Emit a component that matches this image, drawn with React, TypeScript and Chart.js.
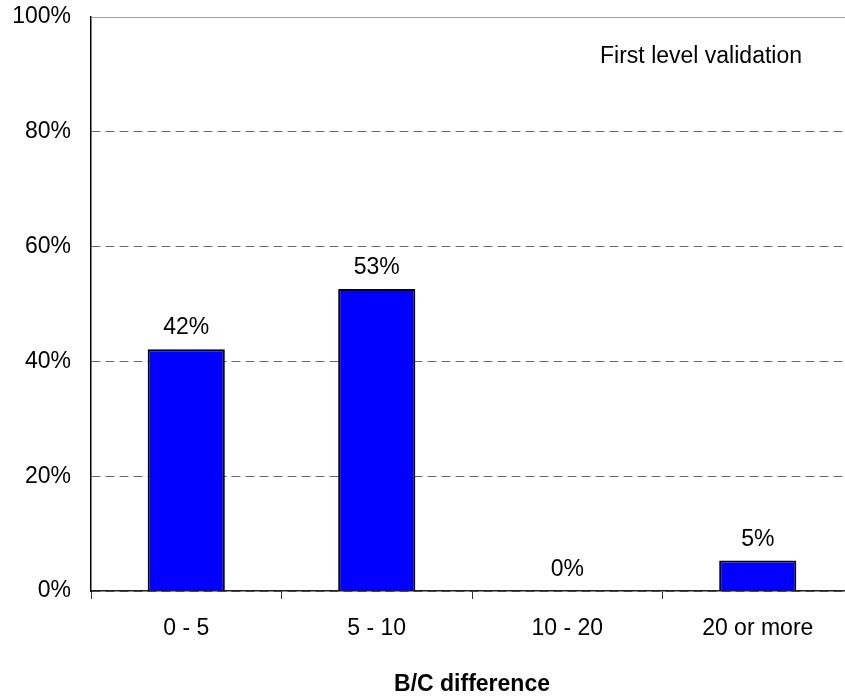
import React, { useEffect, useRef } from "react";
import { Chart, registerables } from "chart.js";

Chart.register(...registerables);

const categories = ["0 - 5", "5 - 10", "10 - 20", "20 or more"];
const shares = [42.1, 52.6, 0, 5.3];
const shareLabels = ["42%", "53%", "0%", "5%"];
const yTickValues = [0, 20, 40, 60, 80, 100];
const xTitle = "B/C difference";
const note = "First level validation";

const FONT = "'Liberation Sans', Arial, sans-serif";
const FS = 23;
const CANVAS_W = 870;
const CANVAS_H = 700;

const barLabelsPlugin = {
  id: "barLabels",
  beforeDatasetsDraw(chart: any) {
    const { ctx, chartArea } = chart;
    ctx.save();
    ctx.strokeStyle = "#a0a0a0";
    ctx.lineWidth = 1;
    ctx.beginPath();
    ctx.moveTo(chartArea.left, chartArea.top + 0.5);
    ctx.lineTo(chartArea.right, chartArea.top + 0.5);
    ctx.stroke();
    ctx.restore();
  },
  afterDatasetsDraw(chart: any) {
    const { ctx, chartArea } = chart;
    const meta = chart.getDatasetMeta(0);
    ctx.save();
    ctx.fillStyle = "#000";
    ctx.font = `${FS}px ${FONT}`;
    ctx.textAlign = "center";
    ctx.textBaseline = "alphabetic";
    meta.data.forEach((bar: any, i: number) => {
      ctx.fillText(shareLabels[i], bar.x, bar.y - 15);
    });
    ctx.textAlign = "right";
    ctx.fillText(note, chartArea.right - 51, chartArea.top + 46);
    ctx.restore();
  },
};

export default function App() {
  const ref = useRef<HTMLCanvasElement | null>(null);

  useEffect(() => {
    if (!ref.current) return;
    const chart = new Chart(ref.current, {
      type: "bar",
      data: {
        labels: categories,
        datasets: [
          {
            data: shares,
            backgroundColor: "#0000ff",
            borderColor: "#000000",
            borderWidth: 2,
            categoryPercentage: 1,
            barPercentage: 0.405,
          },
        ],
      },
      options: {
        responsive: false,
        animation: false,
        layout: { padding: { top: 17, right: 17, left: 0, bottom: 0 } },
        plugins: {
          legend: { display: false },
          tooltip: { enabled: false },
        },
        scales: {
          x: {
            grid: {
              drawOnChartArea: false,
              drawTicks: true,
              tickLength: 8,
              color: "#333",
              offset: true,
            },
            border: { display: true, color: "#222", width: 1.5 },
            ticks: {
              color: "#000",
              font: { family: FONT, size: FS },
              padding: 16,
              maxRotation: 0,
            },
            title: {
              display: true,
              text: xTitle,
              color: "#000",
              font: { family: FONT, size: FS, weight: "bold" },
              padding: { top: 0, bottom: 2 },
            },
            afterFit: (scale: any) => {
              scale.height = 109;
              scale.paddingLeft = 0;
              scale.paddingRight = 0;
            },
          },
          y: {
            min: 0,
            max: 100,
            afterBuildTicks: (scale: any) => {
              scale.ticks = yTickValues.map((v) => ({ value: v }));
            },
            grid: {
              color: "#6a6a6a",
              drawTicks: false,
              lineWidth: 1,
            },
            border: { display: true, color: "#000", width: 1.5, dash: [9, 5] },
            ticks: {
              color: "#000",
              font: { family: FONT, size: FS },
              padding: 20,
              callback: (v: any) => `${v}%`,
            },
            afterFit: (scale: any) => {
              scale.width = 91;
              scale.paddingTop = 0;
              scale.paddingBottom = 0;
            },
          },
        },
      },
      plugins: [barLabelsPlugin],
    });
    return () => chart.destroy();
  }, []);

  return (
    <div
      style={{
        position: "fixed",
        left: 0,
        top: 0,
        width: 845,
        height: 700,
        overflow: "hidden",
        background: "#fff",
      }}
    >
      <canvas
        ref={ref}
        width={CANVAS_W}
        height={CANVAS_H}
        style={{ display: "block", width: CANVAS_W, height: CANVAS_H }}
      />
    </div>
  );
}
